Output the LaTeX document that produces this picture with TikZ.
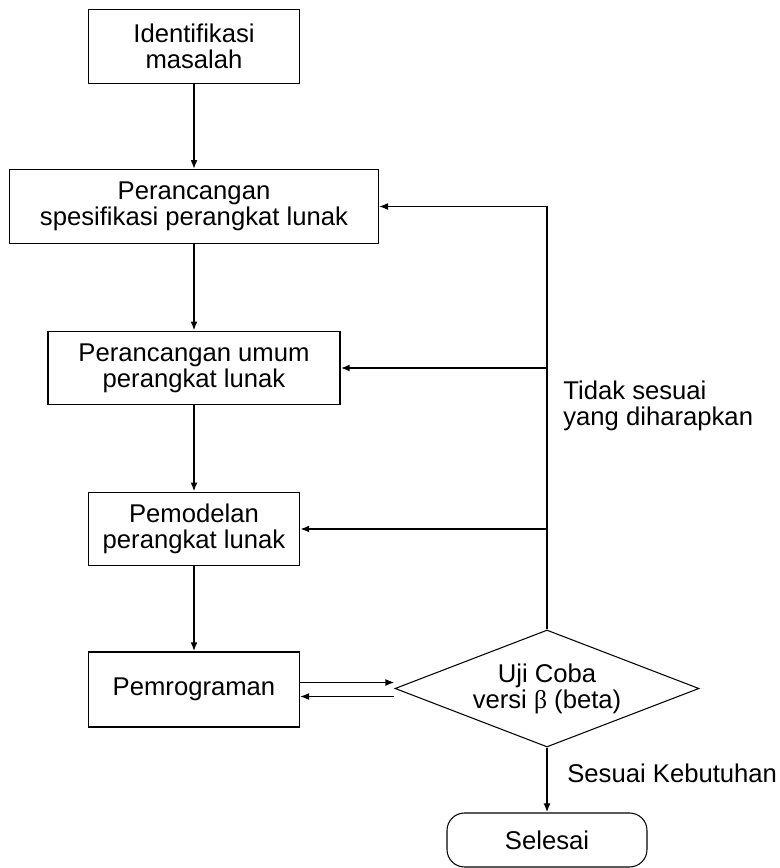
\documentclass[tikz,border=0pt]{standalone}
\usepackage{fontspec}
\setmainfont{Liberation Sans}
\newfontfamily\betafont{Liberation Serif}
\usetikzlibrary{shapes.geometric,arrows.meta}
\tikzset{
kotak/.style={draw,line width=0.8pt,align=center,inner sep=0pt,minimum width=4.22cm,minimum height=1.47cm},
panah/.style={-{Latex[length=1.8mm,width=1.4mm]},line width=1.1pt},
balik/.style={-{Latex[length=1.8mm,width=1.4mm]},line width=0.6pt}
}
\begin{document}
\begin{tikzpicture}[font=\fontsize{14.6}{14.8}\selectfont]
\useasboundingbox (0,0) rectangle (15.6,17.36);
\node[kotak] (ident) at (3.88,16.43) {Identifikasi\\masalah};
\node[kotak,minimum width=7.38cm] (spek) at (3.88,13.23) {Perancangan\\spesifikasi perangkat lunak};
\node[kotak,minimum width=5.84cm] (umum) at (3.88,10.0) {Perancangan umum\\perangkat lunak};
\node[kotak] (model) at (3.88,6.78) {Pemodelan\\perangkat lunak};
\node[kotak,minimum height=1.5cm] (prog) at (3.88,3.57) {Pemrograman};
\node[draw,diamond,aspect=2.6,line width=0.6pt,minimum width=6.08cm,minimum height=2.34cm,inner sep=0pt,align=center] (uji) at (10.94,3.59) {Uji Coba\\versi {\betafont β} (beta)};
\node[draw,line width=0.6pt,rounded corners=0.35cm,minimum width=4cm,minimum height=1.08cm] (selesai) at (10.94,0.56) {Selesai};
\node[anchor=west,align=left,inner sep=0pt] (tidak) at (11.26,9.25) {Tidak sesuai\\yang diharapkan};
\node[anchor=base west,inner sep=0pt] (sesuai) at (11.34,1.70) {Sesuai Kebutuhan};
\coordinate (maju) at ([yshift=0.14cm]prog.east);
\coordinate (mundur) at ([yshift=-0.14cm]prog.east);
\draw[panah] (ident) -- (spek);
\draw[panah] (spek) -- (umum);
\draw[panah] (umum) -- (model);
\draw[panah] (model) -- (prog);
\draw[panah] (maju) -- (maju -| uji.west);
\draw[balik] (mundur -| uji.west) -- (mundur);
\draw[balik] (uji.north) |- (spek.east);
\draw[panah] (uji.north |- umum.east) -- (umum.east);
\draw[panah] (uji.north |- model.east) -- (model.east);
\draw[panah] (uji) -- (selesai);
\end{tikzpicture}
\end{document}
